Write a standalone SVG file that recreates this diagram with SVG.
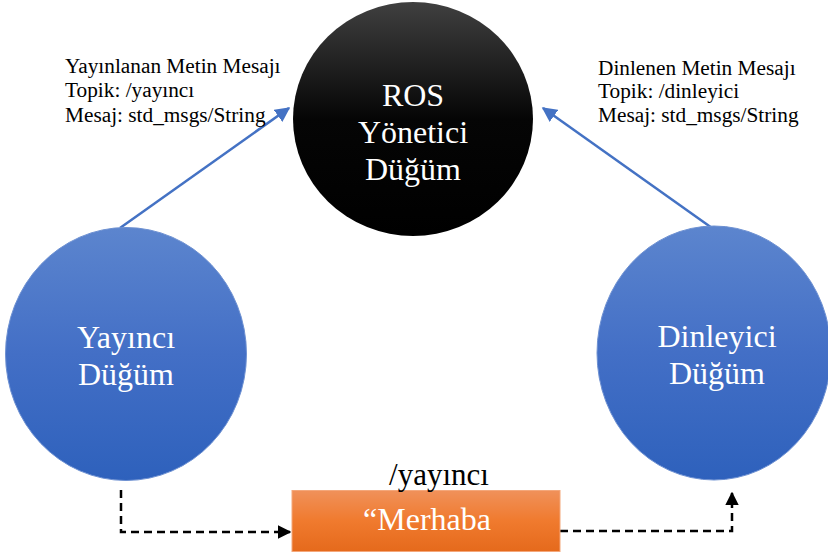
<svg xmlns="http://www.w3.org/2000/svg" width="828" height="553" viewBox="0 0 828 553">
  <defs>
    <linearGradient id="gBlue" x1="0" y1="0" x2="0" y2="1">
      <stop offset="0" stop-color="#5C85CE"/>
      <stop offset="0.5" stop-color="#436FC6"/>
      <stop offset="1" stop-color="#2E61BC"/>
    </linearGradient>
    <linearGradient id="gBlack" x1="0" y1="0" x2="0" y2="1">
      <stop offset="0" stop-color="#404040"/>
      <stop offset="0.5" stop-color="#050505"/>
      <stop offset="1" stop-color="#000000"/>
    </linearGradient>
    <linearGradient id="gOrange" x1="0" y1="0" x2="0" y2="1">
      <stop offset="0" stop-color="#F0915A"/>
      <stop offset="0.5" stop-color="#F07A2E"/>
      <stop offset="1" stop-color="#E56A1C"/>
    </linearGradient>
    <marker id="arrowBlue" viewBox="0 0 10 10" refX="9" refY="5" markerWidth="6" markerHeight="6" orient="auto" markerUnits="strokeWidth">
      <path d="M0,0 L10,5 L0,10 z" fill="#4472C4"/>
    </marker>
    <marker id="arrowBlack" viewBox="0 0 10 10" refX="9" refY="5" markerWidth="5.5" markerHeight="5.5" orient="auto" markerUnits="strokeWidth">
      <path d="M0,0 L10,5 L0,10 z" fill="#000"/>
    </marker>
  </defs>
  <style>
    text { font-family: "Liberation Serif", "DejaVu Serif", serif; }
    .node-text { font-size: 32px; fill: #fff; text-anchor: middle; }
    .label { font-size: 21.3px; fill: #000; }
    .topic { font-size: 31px; fill: #000; text-anchor: middle; }
    .pub { fill: none; stroke: #4472C4; stroke-width: 2.5; marker-end: url(#arrowBlue); }
    .flow { fill: none; stroke: #000; stroke-width: 2.5; stroke-dasharray: 8 5; marker-end: url(#arrowBlack); }
  </style>
  <rect width="828" height="553" fill="#fff"/>

  <!-- connectors -->
  <g id="connectors">
    <line class="pub" x1="120" y1="228" x2="289" y2="108"/>
    <line class="pub" x1="712" y1="228" x2="543" y2="108"/>
    <polyline class="flow" points="121,490 121,532 290,532"/>
    <polyline class="flow" points="560,531 732,531 732,493"/>
  </g>

  <!-- ROS master -->
  <g id="ros-master">
    <ellipse cx="413" cy="119" rx="120" ry="117" fill="url(#gBlack)"/>
    <text class="node-text" x="413" y="106">ROS</text>
    <text class="node-text" x="413" y="143">Yönetici</text>
    <text class="node-text" x="413" y="180">Düğüm</text>
  </g>

  <!-- publisher node -->
  <g id="publisher">
    <ellipse cx="126" cy="354" rx="120.5" ry="126.5" fill="url(#gBlue)" stroke="#6E91D2" stroke-width="1"/>
    <text class="node-text" x="126" y="348">Yayıncı</text>
    <text class="node-text" x="126" y="385">Düğüm</text>
  </g>

  <!-- listener node -->
  <g id="listener">
    <ellipse cx="714" cy="353" rx="117" ry="127" fill="url(#gBlue)" stroke="#6E91D2" stroke-width="1"/>
    <text class="node-text" x="717" y="347">Dinleyici</text>
    <text class="node-text" x="717" y="384">Düğüm</text>
  </g>

  <!-- message box -->
  <g id="message">
    <rect x="292" y="490.5" width="268" height="61" fill="url(#gOrange)" stroke="#F4A77A" stroke-width="1"/>
    <text class="node-text" x="427" y="530">“Merhaba</text>
  </g>

  <!-- labels -->
  <g id="pub-label">
    <text class="label" x="65" y="73">Yayınlanan Metin Mesajı</text>
    <text class="label" x="65" y="97">Topik: /yayıncı</text>
    <text class="label" x="65" y="122">Mesaj: std_msgs/String</text>
  </g>
  <g id="sub-label">
    <text class="label" x="598" y="75">Dinlenen Metin Mesajı</text>
    <text class="label" x="598" y="98">Topik: /dinleyici</text>
    <text class="label" x="598" y="122">Mesaj: std_msgs/String</text>
  </g>
  <g id="topic-label">
    <text class="topic" x="439" y="485">/yayıncı</text>
  </g>
</svg>
